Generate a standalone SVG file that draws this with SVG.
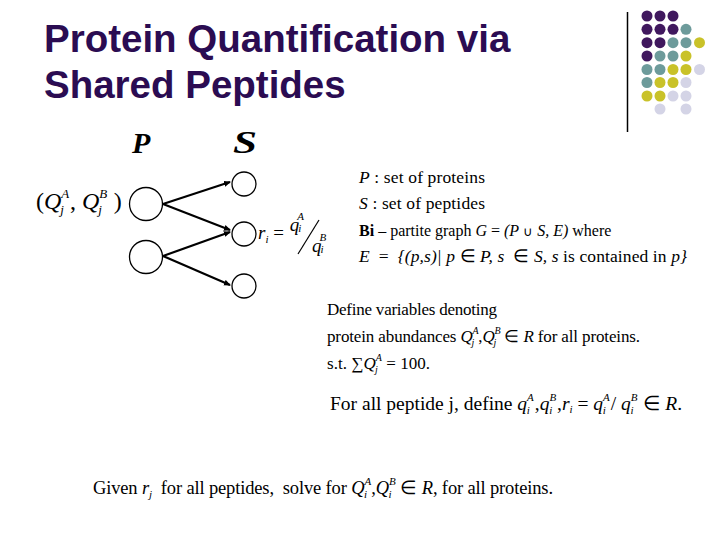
<svg xmlns="http://www.w3.org/2000/svg" width="720" height="540" viewBox="0 0 720 540">
<defs>
<style>
.title{font-family:"Liberation Sans",Arial,sans-serif;font-weight:bold;font-size:38.5px;fill:#2b0c52}
.m{font-family:"Liberation Serif","Times New Roman",serif;fill:#000}
.i{font-style:italic}
.node{fill:#fff;stroke:#000;stroke-width:1.3}
.edge{stroke:#000;stroke-width:2.2;fill:none;marker-end:url(#ah)}
.pu{fill:#40185e}.te{fill:#6d9b9b}.ye{fill:#c9c229}.la{fill:#d4d4e6}
</style>
<marker id="ah" markerWidth="8" markerHeight="8" refX="6" refY="3" orient="auto" markerUnits="userSpaceOnUse">
<path d="M0,0 L7,3 L0,6 z" fill="#000"/>
</marker>
</defs>
<rect width="720" height="540" fill="#fff"/>
<text class="title" x="44" y="52">Protein Quantification via</text>
<text class="title" x="44" y="98">Shared Peptides</text>
<line x1="627.5" y1="12" x2="627.5" y2="132" stroke="#000" stroke-width="1.5"/>
<g id="dots">
<circle class="pu" cx="647" cy="16" r="5.5"/><circle class="pu" cx="660" cy="16" r="5.5"/><circle class="pu" cx="673" cy="16" r="5.5"/>
<circle class="pu" cx="647" cy="29.3" r="5.5"/><circle class="pu" cx="660" cy="29.3" r="5.5"/><circle class="pu" cx="673" cy="29.3" r="5.5"/><circle class="te" cx="686" cy="29.3" r="5.5"/>
<circle class="pu" cx="647" cy="42.7" r="5.5"/><circle class="pu" cx="660" cy="42.7" r="5.5"/><circle class="te" cx="673" cy="42.7" r="5.5"/><circle class="te" cx="686" cy="42.7" r="5.5"/><circle class="ye" cx="699.5" cy="42.7" r="5.5"/>
<circle class="pu" cx="647" cy="56" r="5.5"/><circle class="te" cx="660" cy="56" r="5.5"/><circle class="te" cx="673" cy="56" r="5.5"/><circle class="ye" cx="686" cy="56" r="5.5"/>
<circle class="te" cx="647" cy="69.5" r="5.5"/><circle class="te" cx="660" cy="69.5" r="5.5"/><circle class="ye" cx="673" cy="69.5" r="5.5"/><circle class="ye" cx="686" cy="69.5" r="5.5"/><circle class="la" cx="699.5" cy="69.5" r="5.5"/>
<circle class="te" cx="647" cy="82.5" r="5.5"/><circle class="ye" cx="660" cy="82.5" r="5.5"/><circle class="ye" cx="673" cy="82.5" r="5.5"/><circle class="la" cx="686" cy="82.5" r="5.5"/>
<circle class="ye" cx="647" cy="96" r="5.5"/><circle class="ye" cx="660" cy="96" r="5.5"/><circle class="la" cx="673" cy="96" r="5.5"/><circle class="la" cx="686" cy="96" r="5.5"/>
<circle class="la" cx="660" cy="109" r="5.5"/><circle class="la" cx="686" cy="109" r="5.5"/>
</g>
<text class="m i" x="132" y="153" font-size="30" font-weight="bold" textLength="22">P</text>
<text class="m i" x="233" y="153" font-size="32" font-weight="bold" textLength="24" lengthAdjust="spacingAndGlyphs">S</text>
<g id="connectors">
<line class="edge" x1="163" y1="204" x2="230" y2="182"/>
<line class="edge" x1="163" y1="204" x2="230" y2="230"/>
<line class="edge" x1="163" y1="256" x2="230" y2="232"/>
<line class="edge" x1="163" y1="256" x2="230" y2="285"/>
</g>
<g id="protein1"><circle class="node" cx="146" cy="204" r="16.5"/></g>
<g id="protein2"><circle class="node" cx="146" cy="257" r="16.5"/></g>
<g id="peptide1"><circle class="node" cx="244" cy="184" r="12"/></g>
<g id="peptide2"><circle class="node" cx="244" cy="234" r="12"/></g>
<g id="peptide3"><circle class="node" cx="244" cy="286" r="12"/></g>
<text class="m" x="36" y="209" font-size="24" xml:space="preserve">(<tspan class="i">Q</tspan><tspan class="i" font-size="13" dy="-11">A</tspan><tspan class="i" font-size="13" dx="-9" dy="16">j</tspan><tspan dy="-5"> , </tspan><tspan class="i">Q</tspan><tspan class="i" font-size="13" dy="-11">B</tspan><tspan class="i" font-size="13" dx="-9" dy="16">j</tspan><tspan dy="-5">  )</tspan></text>
<text class="m" x="258" y="239" font-size="19" xml:space="preserve"><tspan class="i">r</tspan><tspan class="i" font-size="11" dy="4">i</tspan><tspan dy="-4"> = </tspan><tspan class="i" dx="1" dy="-8">q</tspan><tspan class="i" font-size="11" dx="-1" dy="1">i</tspan><tspan class="i" font-size="11" dx="-4" dy="-12">A</tspan></text>
<line x1="298" y1="254" x2="319" y2="220" stroke="#000" stroke-width="1.2"/>
<text class="m" x="312" y="252" font-size="19"><tspan class="i">q</tspan><tspan class="i" font-size="11" dx="-1" dy="1">i</tspan><tspan class="i" font-size="11" dx="-4" dy="-12">B</tspan></text>
<g font-size="17.5">
<text class="m" x="359" y="183" textLength="126" xml:space="preserve"><tspan class="i">P</tspan> : set of proteins</text>
<text class="m" x="359" y="209" textLength="126" xml:space="preserve"><tspan class="i">S</tspan> : set of peptides</text>
<text class="m" x="359" y="236" font-size="16" xml:space="preserve"><tspan font-weight="bold">Bi</tspan> – partite graph <tspan class="i">G</tspan> = <tspan class="i">(P</tspan> <tspan font-size="13">∪</tspan> <tspan class="i">S, E)</tspan> where</text>
<text class="m" x="359" y="262" textLength="328" xml:space="preserve"><tspan class="i">E</tspan>  =  <tspan class="i">{(p,s)|</tspan> <tspan class="i">p</tspan> ∈ <tspan class="i">P,</tspan> <tspan class="i">s</tspan>  ∈ <tspan class="i">S, s</tspan> is contained in <tspan class="i">p}</tspan></text>
</g>
<g font-size="17">
<text class="m" x="327" y="315" textLength="170">Define variables denoting</text>
<text class="m" x="327" y="342" textLength="313" xml:space="preserve">protein abundances <tspan class="i">Q</tspan><tspan class="i" font-size="10" dy="-8">A</tspan><tspan class="i" font-size="10" dx="-7" dy="12">j</tspan><tspan dy="-4"> ,</tspan><tspan class="i">Q</tspan><tspan class="i" font-size="10" dy="-8">B</tspan><tspan class="i" font-size="10" dx="-7" dy="12">j</tspan><tspan dy="-4">  ∈ </tspan><tspan class="i">R</tspan> for all proteins.</text>
<text class="m" x="327" y="369" textLength="103" xml:space="preserve">s.t. ∑<tspan class="i">Q</tspan><tspan class="i" font-size="10" dy="-8">A</tspan><tspan class="i" font-size="10" dx="-7" dy="12">j</tspan><tspan dy="-4">  = 100.</tspan></text>
</g>
<text class="m" x="330" y="410" font-size="19.5" textLength="352" xml:space="preserve">For all peptide j, define <tspan class="i">q</tspan><tspan class="i" font-size="11" dy="-9.5">A</tspan><tspan class="i" font-size="11" dx="-7" dy="13.5">i</tspan><tspan dy="-4"> ,</tspan><tspan class="i">q</tspan><tspan class="i" font-size="11" dy="-9.5">B</tspan><tspan class="i" font-size="11" dx="-7" dy="13.5">i</tspan><tspan dy="-4"> ,</tspan><tspan class="i">r</tspan><tspan class="i" font-size="11" dy="3">i</tspan><tspan dy="-3"> = </tspan><tspan class="i">q</tspan><tspan class="i" font-size="11" dy="-9.5">A</tspan><tspan class="i" font-size="11" dx="-7" dy="13.5">i</tspan><tspan dy="-4"> / </tspan><tspan class="i">q</tspan><tspan class="i" font-size="11" dy="-9.5">B</tspan><tspan class="i" font-size="11" dx="-7" dy="13.5">i</tspan><tspan dy="-4">  ∈ </tspan><tspan class="i">R</tspan>.</text>
<text class="m" x="93" y="494" font-size="18.5" textLength="460" xml:space="preserve">Given <tspan class="i">r</tspan><tspan class="i" font-size="11" dy="4">j</tspan><tspan dy="-4">  for all peptides,  solve for </tspan><tspan class="i">Q</tspan><tspan class="i" font-size="11" dy="-9.5">A</tspan><tspan class="i" font-size="11" dx="-7" dy="13.5">i</tspan><tspan dy="-4"> ,</tspan><tspan class="i">Q</tspan><tspan class="i" font-size="11" dy="-9.5">B</tspan><tspan class="i" font-size="11" dx="-7" dy="13.5">i</tspan><tspan dy="-4">  ∈ </tspan><tspan class="i">R</tspan>, for all proteins.</text>
</svg>
